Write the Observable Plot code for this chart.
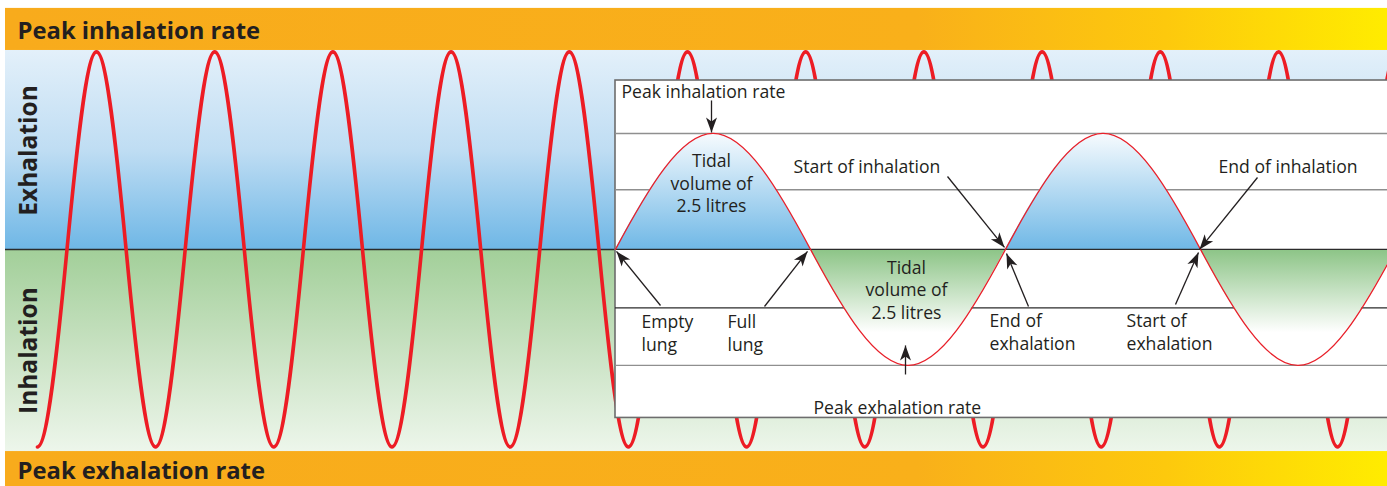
<!DOCTYPE html>
<html>
<head>
<meta charset="utf-8">
<script src="https://cdn.jsdelivr.net/npm/d3@7"></script>
<script src="https://cdn.jsdelivr.net/npm/@observablehq/plot@0.6"></script>
<style>
  html, body { margin: 0; padding: 0; background: #ffffff; }
  #chart svg { display: block; }
</style>
</head>
<body>
<div id="chart"></div>
<script>
// ---------- DATA (time in tenths-units, flow with outer peak = 100) ----------
// Large background breathing wave: extrema and midline crossings
const outerTime = [3.69, 6.65, 9.60, 12.56, 15.51, 18.47, 21.42, 24.38, 27.33, 30.29,
  33.24, 36.20, 39.15, 42.11, 45.06, 48.02, 50.97, 53.93, 56.88, 59.84,
  62.79, 65.75, 68.70, 71.66, 74.61, 77.57, 80.52, 83.48, 86.43, 89.39,
  92.34, 95.30, 98.25, 101.21, 104.16, 107.12, 110.07, 113.03, 115.98, 118.94,
  121.89, 124.85, 127.80, 130.76, 133.71, 136.67, 139.62, 142.58];
const outerFlow = [-100, 0, 100, 0, -100, 0, 100, 0, -100, 0,
  100, 0, -100, 0, 100, 0, -100, 0, 100, 0,
  -100, 0, 100, 0, -100, 0, 100, 0, -100, 0,
  100, 0, -100, 0, 100, 0, -100, 0, 100, 0,
  -100, 0, 100, 0, -100, 0, 100, 0];

// Inset (detail) breathing wave
const insetTime = [61.5, 71.25, 81.0, 90.75, 100.5, 110.25, 120.0, 129.75, 139.5, 149.25];
const insetFlow = [0, 58.7, 0, -58.7, 0, 58.7, 0, -58.7, 0, 58.7];

// Inset horizontal guide levels
const gridLevels = [58.7, 30.2, -29.6, -58.7];
const gridTone = ["light", "light", "dark", "light"];

// Frame regions
const bandNames = ["top", "bottom"];
const bandLow = [100.7, -120];
const bandHigh = [122, -102.3];
const plotLeft = 0.5, plotRight = 138.7;
const insetLeft = 61.5, insetTop = 85.5, insetBottom = -85.3;

// Band titles
const bandText = ["Peak inhalation rate", "Peak exhalation rate"];
const bandTextY = [106.3, -116.3];

// Side titles
const sideText = ["Exhalation", "Inhalation"];
const sideTextY = [50.1, -51.2];
const sideTextX = 2.85;

// Inset annotations (left-anchored)
const noteText = ["Peak inhalation rate", "Start of inhalation", "End of inhalation",
  "Empty\nlung", "Full\nlung", "End of\nexhalation", "Start of\nexhalation", "Peak exhalation rate"];
const noteX = [62.1, 79.3, 121.8, 64.1, 72.7, 98.9, 112.6, 81.3];
const noteY = [76.9, 38.9, 38.9, -51.2, -51.2, -50.7, -50.7, -83.1];

// Inset annotations (centred)
const volumeText = ["Tidal\nvolume of\n2.5 litres", "Tidal\nvolume of\n2.5 litres"];
const volumeX = [71.1, 90.6];
const volumeY = [18.7, -35.0];

// Arrows (tail -> tip)
const arrowX1 = [71.1, 94.7, 125.7, 66.0, 76.4, 90.5, 102.8, 117.5];
const arrowY1 = [75.4, 36.9, 36.4, -28.4, -28.9, -63.3, -28.9, -27.9];
const arrowX2 = [71.1, 100.4, 119.9, 61.6, 80.7, 90.5, 100.6, 119.8];
const arrowY2 = [59.2, 1.0, 0.0, -1.0, -1.0, -48.6, -2.1, -1.5];

// ---------- BUILD ----------
const W = 1387, H = 486;
const xDomain = [0, 138.7], yDomain = [-120, 126];
const kx = W / (xDomain[1] - xDomain[0]);
const ky = H / (yDomain[1] - yDomain[0]);

const outer = outerTime.map((t, i) => ({t, flow: outerFlow[i]}));
const inset = insetTime.map((t, i) => ({t, flow: insetFlow[i]}));
const bands = bandNames.map((n, i) => ({n, y1: bandLow[i], y2: bandHigh[i], x1: plotLeft, x2: plotRight}));
const bg = [{x1: plotLeft, x2: plotRight, y1: bandHigh[1], y2: bandLow[0]}];
const box = [{x1: insetLeft, x2: plotRight + 1, y1: insetBottom, y2: insetTop}];
const grids = gridLevels.map((v, i) => ({v, tone: gridTone[i]}));
const bandLabels = bandText.map((s, i) => ({s, x: 1.7, y: bandTextY[i]}));
const sideLabels = sideText.map((s, i) => ({s, x: sideTextX, y: sideTextY[i]}));
const notes = noteText.map((s, i) => ({s, x: noteX[i], y: noteY[i]}));
const volumes = volumeText.map((s, i) => ({s, x: volumeX[i], y: volumeY[i]}));
const arrows = arrowX1.map((x1, i) => {
  const x2 = arrowX2[i], y1 = arrowY1[i], y2 = arrowY2[i];
  const sx = (x2 - x1) * kx, sy = -(y2 - y1) * ky;
  return {x1, y1, x2, y2, angle: Math.atan2(sx, -sy) * 180 / Math.PI};
});

// Smooth wave curve through extrema / crossings (Hermite: flat at extrema, sine-like slope at crossings)
function waveCurve(context) {
  return {
    _context: context,
    areaStart() { this._line = 0; },
    areaEnd() { this._line = NaN; },
    lineStart() { this._x = []; this._y = []; },
    point(x, y) { this._x.push(+x); this._y.push(+y); },
    lineEnd() {
      const X = this._x, Y = this._y, n = X.length, c = this._context;
      if (n) {
        this._line ? c.lineTo(X[0], Y[0]) : c.moveTo(X[0], Y[0]);
        const lo = Math.min(...Y), hi = Math.max(...Y), mid = (lo + hi) / 2, eps = (hi - lo) * 1e-3 + 1e-9;
        const m = Y.map((y, i) => {
          const isCross = hi - lo > 1e-6 && Math.abs(y - mid) < eps;
          if (!isCross || n === 1) return 0;
          const a = Math.max(0, i - 1), b = Math.min(n - 1, i + 1);
          return (Math.PI / 2) * (Y[b] - Y[a]) / (X[b] - X[a]);
        });
        for (let i = 0; i < n - 1; i++) {
          const dx = (X[i + 1] - X[i]) / 3;
          c.bezierCurveTo(X[i] + dx, Y[i] + m[i] * dx, X[i + 1] - dx, Y[i + 1] - m[i + 1] * dx, X[i + 1], Y[i + 1]);
        }
      }
      if (this._line || (this._line !== 0 && n === 1)) c.closePath();
      this._line = 1 - this._line;
      this._x = this._y = null;
    }
  };
}

const arrowHead = {
  draw(ctx) {
    ctx.moveTo(0, 0);
    ctx.lineTo(-5.5, 15);
    ctx.lineTo(0, 11);
    ctx.lineTo(5.5, 15);
    ctx.closePath();
  }
};

const defs = () => {
  const g = d3.create("svg:defs");
  const addGrad = (id, vertical, stops) => {
    const lg = g.append("linearGradient").attr("id", id)
      .attr("x1", 0).attr("y1", 0).attr("x2", vertical ? 0 : 1).attr("y2", vertical ? 1 : 0);
    stops.forEach(([o, c]) => lg.append("stop").attr("offset", o).attr("stop-color", c));
  };
  addGrad("orangeGrad", false, [[0, "#F8AB1C"], [0.66, "#F9B01A"], [0.84, "#FDC90D"], [1, "#FFEC00"]]);
  addGrad("bgGrad", true, [[0, "#E3F0FA"], [0.25, "#BFDDF3"], [0.496, "#6FB7E6"], [0.496, "#A2CF99"], [0.75, "#C9E2C3"], [1, "#EDF6EB"]]);
  addGrad("lungGrad", true, [[0, "#F7FBFE"], [0.5, "#70B8E6"], [0.5, "#8CC486"], [0.86, "#FFFFFF"], [1, "#FFFFFF"]]);
  return g.node();
};

const FONT = "'Open Sans', Lato, sans-serif";
const INK = "#231F20";

const chart = Plot.plot({
  width: W,
  height: H,
  margin: 0,
  x: {domain: xDomain, axis: null},
  y: {domain: yDomain, axis: null},
  style: {background: "white", overflow: "hidden"},
  marks: [
    defs,
    Plot.rect(bands, {x1: "x1", x2: "x2", y1: "y1", y2: "y2", fill: "url(#orangeGrad)"}),
    Plot.rect(bg, {x1: "x1", x2: "x2", y1: "y1", y2: "y2", fill: "url(#bgGrad)"}),
    Plot.ruleY([0], {x1: plotLeft, x2: plotRight, stroke: "#2b2b2b", strokeWidth: 1.6}),
    Plot.line(outer, {x: "t", y: "flow", curve: waveCurve, stroke: "#ED1C24", strokeWidth: 3.6, clip: true}),
    Plot.rect(box, {x1: "x1", x2: "x2", y1: "y1", y2: "y2", fill: "white", stroke: "#6d6d6d", strokeWidth: 1.6}),
    Plot.ruleY(grids.filter(d => d.tone === "light"), {y: "v", x1: insetLeft, x2: plotRight, stroke: "#8f8f8f", strokeWidth: 1.4}),
    Plot.ruleY(grids.filter(d => d.tone === "dark"), {y: "v", x1: insetLeft, x2: plotRight, stroke: "#2b2b2b", strokeWidth: 1.3}),
    Plot.areaY(inset, {x: "t", y1: 0, y2: "flow", curve: waveCurve, fill: "url(#lungGrad)", clip: true}),
    Plot.ruleY([0], {x1: insetLeft, x2: plotRight, stroke: "#2b2b2b", strokeWidth: 1.3}),
    Plot.line(inset, {x: "t", y: "flow", curve: waveCurve, stroke: "#E8202A", strokeWidth: 1.3, clip: true}),
    Plot.text(bandLabels, {x: "x", y: "y", text: "s", textAnchor: "start", lineAnchor: "bottom",
      fontSize: 23.8, fontWeight: "bold", fontFamily: FONT, fill: INK}),
    Plot.text(sideLabels, {x: "x", y: "y", text: "s", rotate: -90, textAnchor: "middle", lineAnchor: "middle",
      fontSize: 24.5, fontWeight: "bold", fontFamily: FONT, fill: INK}),
    Plot.text(notes, {x: "x", y: "y", text: "s", textAnchor: "start", lineAnchor: "bottom",
      fontSize: 17.6, lineHeight: 1.28, fontFamily: FONT, fill: INK}),
    Plot.text(volumes, {x: "x", y: "y", text: "s", textAnchor: "middle", lineAnchor: "bottom",
      fontSize: 17.6, lineHeight: 1.28, fontFamily: FONT, fill: INK}),
    Plot.link(arrows, {x1: "x1", y1: "y1", x2: "x2", y2: "y2", stroke: INK, strokeWidth: 1.3}),
    Plot.dot(arrows, {x: "x2", y: "y2", symbol: arrowHead, rotate: "angle", fill: INK, stroke: "none", r: 5})
  ]
});
document.getElementById("chart").appendChild(chart);
</script>
</body>
</html>
